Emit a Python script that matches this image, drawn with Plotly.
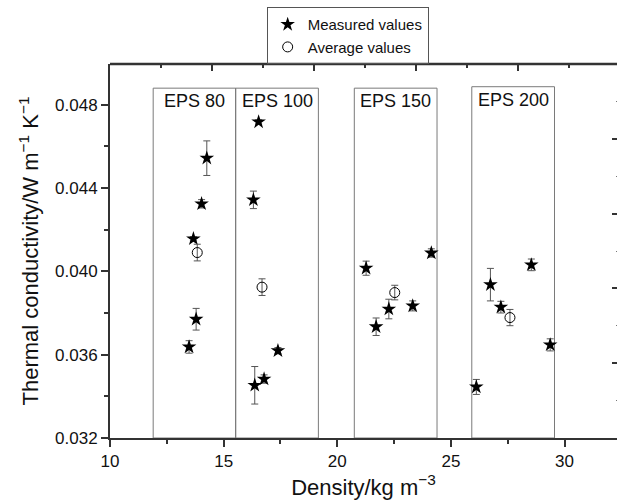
import plotly.graph_objects as go

# Measured values (density kg/m3, conductivity W/mK, error)
meas_x = [14.26, 14.03, 13.67, 13.79, 13.48,
          16.54, 16.31, 17.39, 16.78, 16.37,
          24.14, 21.27, 22.27, 21.71, 23.32,
          26.74, 27.20, 28.54, 29.37, 26.12]
meas_y = [0.04543, 0.04324, 0.04156, 0.03770, 0.03637,
          0.04717, 0.04343, 0.03619, 0.03483, 0.03453,
          0.04088, 0.04015, 0.03819, 0.03734, 0.03834,
          0.03936, 0.03828, 0.04031, 0.03647, 0.03445]
meas_err = [0.00083, 0.00020, 0.00010, 0.00052, 0.00030,
            0.00010, 0.00042, 0.00015, 0.00020, 0.00090,
            0.00020, 0.00034, 0.00047, 0.00042, 0.00024,
            0.00078, 0.00028, 0.00028, 0.00029, 0.00036]

# Average values
avg_x = [13.84, 16.69, 22.53, 27.60]
avg_y = [0.04090, 0.03924, 0.03898, 0.03778]
avg_err = [0.00040, 0.00040, 0.00035, 0.00039]

# EPS grade boxes
box_labels = ["EPS 80", "EPS 100", "EPS 150", "EPS 200"]
box_x0 = [11.90, 15.53, 20.75, 25.92]
box_x1 = [15.53, 19.17, 24.39, 29.56]
box_top = [0.04879, 0.04879, 0.04879, 0.04886]

x_range = [10, 32.31]
y_range = [0.032, 0.04995]
y_ticks = [0.032, 0.036, 0.040, 0.044, 0.048]

FONT = "Liberation Sans, Arial, Helvetica, sans-serif"
AX = "#333333"

fig = go.Figure()
fig.add_trace(go.Scatter(
    x=meas_x, y=meas_y, mode="markers", name="Measured values",
    marker=dict(symbol="star", size=11, color="black"),
    error_y=dict(type="data", array=meas_err, color="#555555", thickness=1, width=3.5),
))
fig.add_trace(go.Scatter(
    x=avg_x, y=avg_y, mode="markers", name="Average values",
    marker=dict(symbol="circle-open", size=10, color="black", line=dict(width=1)),
    error_y=dict(type="data", array=avg_err, color="#555555", thickness=1, width=3.5),
))
# placeholder traces (no points) so the extra top / right frame axes are drawn
fig.add_trace(go.Scatter(x=[None], y=[None], mode="markers", xaxis="x2", yaxis="y",
                         showlegend=False, hoverinfo="skip"))
fig.add_trace(go.Scatter(x=[None], y=[None], mode="markers", xaxis="x", yaxis="y2",
                         showlegend=False, hoverinfo="skip"))

for lab, x0, x1, yt in zip(box_labels, box_x0, box_x1, box_top):
    fig.add_shape(type="rect", xref="x", yref="y", x0=x0, x1=x1, y0=y_range[0], y1=yt,
                  line=dict(color="#7a7a7a", width=1), layer="below")
    fig.add_annotation(x=(x0 + x1) / 2, y=yt, xref="x", yref="y", text=lab,
                       showarrow=False, yanchor="top", yshift=-1,
                       font=dict(family=FONT, size=18, color="#111111"))

# top frame line of the plot area
fig.add_shape(type="line", xref="paper", yref="paper", x0=0, x1=1, y0=1, y1=1,
              line=dict(color=AX, width=2.5), layer="above")

fig.update_layout(
    width=617, height=503,
    margin=dict(l=110, r=0, t=64, b=65),
    paper_bgcolor="white", plot_bgcolor="white",
    font=dict(family=FONT, color="#111111"),
    showlegend=True,
    legend=dict(x=0.309, y=1.152, xanchor="left", yanchor="top",
                bordercolor="#555555", borderwidth=1, bgcolor="rgba(255,255,255,0)",
                font=dict(family=FONT, size=15, color="#111111"),
                tracegroupgap=0),
    xaxis=dict(range=x_range, dtick=5, tick0=10, ticks="outside", ticklen=7,
               tickwidth=1.5, tickcolor=AX, showline=True, linewidth=2, linecolor=AX,
               showgrid=False, zeroline=False,
               minor=dict(dtick=2.5, ticks="outside", ticklen=4, tickcolor=AX, tickwidth=1.5),
               tickfont=dict(size=17, family=FONT, color="#111111"),
               title=dict(text="Density/kg m<sup>\u22123</sup>", standoff=8,
                          font=dict(size=22, family=FONT, color="#111111"))),
    yaxis=dict(range=y_range, tickvals=y_ticks, tickformat=".3f", ticks="outside",
               ticklen=7, tickwidth=1.5, tickcolor=AX, showline=True, linewidth=2,
               linecolor=AX, showgrid=False, zeroline=False,
               minor=dict(tickvals=[0.034, 0.038, 0.042, 0.046], ticks="outside",
                          ticklen=4, tickcolor=AX, tickwidth=1.5),
               tickfont=dict(size=17, family=FONT, color="#111111"),
               title=dict(text="Thermal conductivity/W m<sup>\u22121</sup> K<sup>\u22121</sup>",
                          standoff=10, font=dict(size=22, family=FONT, color="#111111"))),
    xaxis2=dict(overlaying="x", side="top", anchor="y", range=[0, 4.966],
                dtick=1, ticks="inside", ticklen=7, tickwidth=1.5, tickcolor=AX,
                showline=False, showticklabels=False,
                showgrid=False, zeroline=False,
                minor=dict(dtick=0.5, ticks="inside", ticklen=4, tickcolor=AX, tickwidth=1.5)),
    yaxis2=dict(overlaying="y", side="right", anchor="x", range=[0, 5], dtick=1,
                ticks="inside", ticklen=5, tickwidth=1.5, tickcolor=AX,
                showline=False, showticklabels=False, showgrid=False, zeroline=False,
                minor=dict(dtick=0.5, ticks="inside", ticklen=1, tickcolor="#777777", tickwidth=1)),
)

fig.write_html("out.html")
